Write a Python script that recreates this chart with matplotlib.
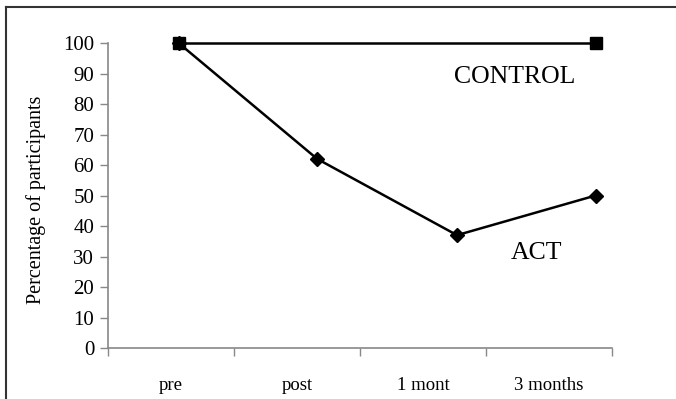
import matplotlib.pyplot as plt
from matplotlib.lines import Line2D

plt.rcParams['font.family'] = ['Liberation Serif', 'DejaVu Serif']

# categories on the x axis
categories = ["pre", "post", "1 mont", "3 months"]

# where the points sit along the category axis (as drawn in the original)
act_x = [0.06, 1.16, 2.27, 3.37]
act_y = [100, 62, 37, 50]

control_x = [0.06, 3.37]
control_y = [100, 100]

fig = plt.figure(figsize=(6.76, 3.99), dpi=100)
ax = fig.add_axes([0.1598, 0.1278, 0.7455, 0.7644])

ax.plot(control_x, control_y, color='black', lw=1.8, marker='s', ms=8,
        clip_on=False, zorder=3)
ax.plot(act_x, act_y, color='black', lw=1.8, marker='D', ms=7,
        clip_on=False, zorder=3)

ax.text(2.25, 88.8, "CONTROL", fontsize=18.5, ha='left', va='center')
ax.text(2.7, 31.2, "ACT", fontsize=18.5, ha='left', va='center')

ax.set_xlim(-0.5, 3.5)
ax.set_ylim(0, 100)
ax.set_yticks(range(0, 101, 10))
ax.tick_params(axis='y', labelsize=15, length=6, width=1, color='#888888',
               direction='out', pad=4)

# boundary ticks between categories, labels centred in the bands
ax.set_xticks([-0.5, 0.5, 1.5, 2.5, 3.5])
ax.set_xticklabels([])
ax.set_xticks(range(len(categories)), minor=True)
ax.set_xticklabels(categories, minor=True)
ax.tick_params(axis='x', which='major', length=6, width=1, color='#888888')
ax.tick_params(axis='x', which='minor', length=0, labelsize=13.5, pad=21)

for side in ['top', 'right']:
    ax.spines[side].set_visible(False)
for side in ['left', 'bottom']:
    ax.spines[side].set_color('#888888')
    ax.spines[side].set_linewidth(1.2)

fig.text(0.053, 0.5, "Percentage of participants", rotation=90,
         ha='center', va='center', fontsize=14.5)

# frame around the figure (top and left edges visible)
fig.add_artist(Line2D([0.009, 1.0], [0.982, 0.982], color='#333333', lw=1.5))
fig.add_artist(Line2D([0.009, 0.009], [0.0, 0.982], color='#333333', lw=1.5))

fig.savefig("out.png", dpi=100)
